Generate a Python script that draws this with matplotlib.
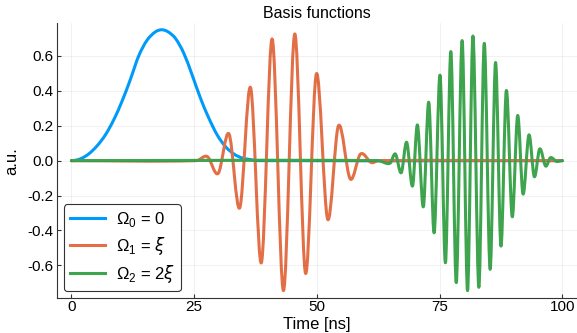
import matplotlib
matplotlib.use("Agg")
import matplotlib.pyplot as plt
from matplotlib.path import Path
from matplotlib.patches import PathPatch
from matplotlib.lines import Line2D

plt.rcParams['font.family'] = ['Liberation Sans', 'DejaVu Sans']
plt.rcParams['mathtext.fontset'] = 'custom'
plt.rcParams['mathtext.rm'] = 'Liberation Sans'
plt.rcParams['mathtext.it'] = 'DejaVu Sans:italic'

# ---- data ----
t_blue = [0.0, 1.8, 3.5, 5.2, 6.9, 8.6, 10.3, 12.0, 13.7, 15.4, 17.1, 18.4,
          19.7, 21.2, 22.9, 24.6, 26.3, 28.0, 29.7, 31.4, 33.1, 34.8, 36.5, 37.8, 100.0]
v_blue = [0.0, 0.01, 0.038, 0.084, 0.147, 0.233, 0.34, 0.465, 0.60, 0.69, 0.738, 0.75,
          0.738, 0.70, 0.615, 0.49, 0.357, 0.243, 0.147, 0.08, 0.038, 0.015, 0.006, 0.0, 0.0]

t_orange = [0.0, 25.5, 27.7, 29.9, 32.1, 34.3, 36.5, 38.7, 40.9, 43.2, 45.5, 47.7,
            49.9, 52.2, 54.4, 56.8, 58.9, 61.1, 62.5, 100.0]
v_orange = [0.0, 0.0, 0.023, -0.073, 0.153, -0.27, 0.418, -0.585, 0.697, -0.745, 0.726, -0.646,
            0.497, -0.336, 0.20, -0.105, 0.038, -0.011, 0.0, 0.0]

t_green = [0.0, 62.5, 64.9, 66.0, 67.2, 68.3, 69.5, 70.5, 71.7, 72.8, 73.9, 75.1, 76.2,
           77.3, 78.4, 79.6, 80.7, 81.8, 83.0, 84.1, 85.3, 86.4, 87.5, 88.6, 89.8,
           90.9, 92.0, 93.2, 94.3, 95.4, 96.6, 97.6, 98.8, 100.0]
v_green = [0.0, 0.0, -0.015, 0.038, -0.069, 0.105, -0.145, 0.204, -0.264, 0.334, -0.413, 0.489, -0.585,
           0.625, -0.699, 0.688, -0.745, 0.714, -0.726, 0.672, -0.623, 0.562, -0.489, 0.401, -0.321,
           0.258, -0.191, 0.147, -0.092, 0.067, -0.031, 0.017, -0.004, 0.0]

labels = [r'$\Omega_0$ = 0', r'$\Omega_1$ = $\xi$', r'$\Omega_2$ = 2$\xi$']
colors = ['#009AFA', '#E36F47', '#3EA44E']
xticks = [0, 25, 50, 75, 100]
yticks = [-0.6, -0.4, -0.2, 0.0, 0.2, 0.4, 0.6]
ytick_labels = ['-0.6', '-0.4', '-0.2', '0.0', '0.2', '0.4', '0.6']

LW = 2.2


def smooth_path(t, v):
    """Bezier path through the read points (Hermite tangents from neighbours)."""
    n = len(t)
    slopes = []
    for i in range(n):
        if i == 0 or i == n - 1:
            slopes.append(0.0)
        else:
            slopes.append((v[i + 1] - v[i - 1]) / (t[i + 1] - t[i - 1]))
    verts = [(t[0], v[0])]
    codes = [Path.MOVETO]
    for i in range(n - 1):
        h = t[i + 1] - t[i]
        verts += [(t[i] + h / 3, v[i] + slopes[i] * h / 3),
                  (t[i + 1] - h / 3, v[i + 1] - slopes[i + 1] * h / 3),
                  (t[i + 1], v[i + 1])]
        codes += [Path.CURVE4] * 3
    return Path(verts, codes)


fig = plt.figure(figsize=(5.77, 3.33), dpi=100)
ax = fig.add_axes([0.0983, 0.1042, 0.9017, 0.8258])

handles = []
for (t, v), lab, c in zip([(t_blue, v_blue), (t_orange, v_orange), (t_green, v_green)], labels, colors):
    patch = PathPatch(smooth_path(t, v), facecolor='none', edgecolor=c, lw=LW,
                      joinstyle='round', capstyle='round')
    ax.add_patch(patch)
    handles.append(Line2D([], [], color=c, lw=LW, label=lab))

ax.set_xlim(-3, 103)
ax.set_ylim(-0.789, 0.787)
ax.set_xticks(xticks)
ax.set_xticklabels([str(x) for x in xticks])
ax.set_yticks(yticks)
ax.set_yticklabels(ytick_labels)
ax.tick_params(direction='in', length=3, width=0.8, color='#333333', labelsize=11)
ax.tick_params(axis='x', pad=1.5)
ax.tick_params(axis='y', pad=2.5)
ax.grid(True, color='#000000', alpha=0.08, lw=0.5)
for s in ['top', 'right']:
    ax.spines[s].set_visible(False)
for s in ['left', 'bottom']:
    ax.spines[s].set_color('#333333')
    ax.spines[s].set_linewidth(0.8)

ax.set_title('Basis functions', fontsize=11.5, pad=4)
ax.set_xlabel('Time [ns]', fontsize=12, labelpad=2)
ax.set_ylabel('a.u.', fontsize=12, labelpad=6)

leg = ax.legend(handles=handles, loc='lower left', bbox_to_anchor=(0.014, 0.027), borderaxespad=0,
                fontsize=12, handlelength=2.1, handletextpad=0.65, labelspacing=0.36,
                frameon=True, fancybox=True, borderpad=0.35)
leg.get_frame().set_edgecolor('#333333')
leg.get_frame().set_linewidth(0.8)
leg.get_frame().set_alpha(1)

fig.savefig('out.png', dpi=100)
